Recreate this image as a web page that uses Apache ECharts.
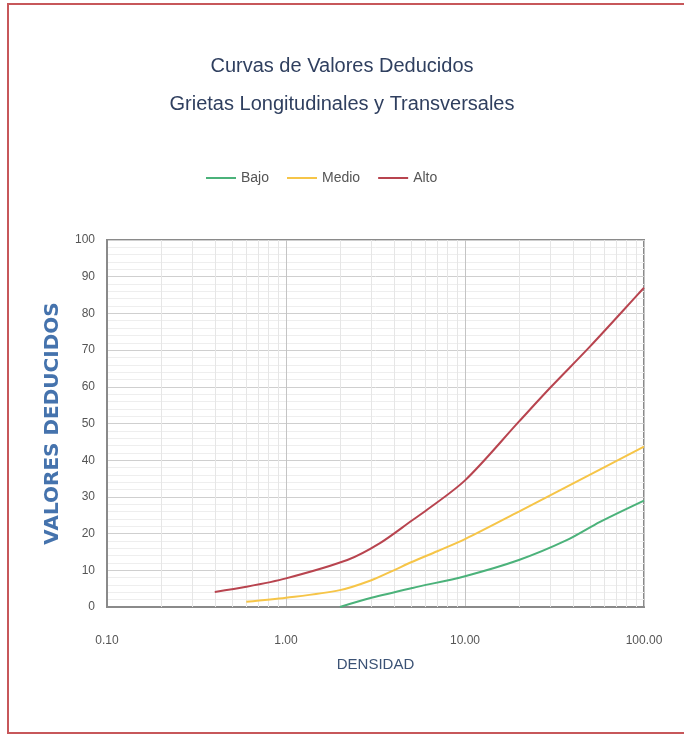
<!DOCTYPE html>
<html>
<head>
<meta charset="utf-8">
<script src="https://cdn.jsdelivr.net/npm/echarts@6/dist/echarts.min.js"></script>
<style>html,body{margin:0;padding:0;background:#fff;}#c{width:684px;height:737px;}</style>
</head>
<body>
<div id="c"></div>
<script>
const seriesNames = ['Bajo', 'Medio', 'Alto'];
const bajoX = [2.0, 3.0, 5.1, 10, 20, 37, 56.8, 100];
const bajoY = [0, 2.5, 5.2, 8.4, 12.8, 18.2, 23.2, 29];
const medioX = [0.6, 1.0, 2.0, 3.0, 4.0, 5.0, 7.0, 10, 20, 40, 100];
const medioY = [1.4, 2.5, 4.6, 7.3, 10, 12.2, 15.2, 18.5, 26, 33.6, 43.7];
const altoX = [0.4, 0.6, 1.0, 2.2, 3.35, 5.1, 5.8, 10, 20, 30, 50, 100];
const altoY = [4.1, 5.5, 7.8, 12.8, 17.4, 23.7, 25.6, 34.5, 50.5, 59.8, 71, 87];
const minorXTicks = [0.2,0.3,0.4,0.5,0.6,0.7,0.8,0.9,2,3,4,5,6,7,8,9,20,30,40,50,60,70,80,90];
const colors = ['#4bb27a', '#f6c548', '#b8444f'];

const zip = (xs, ys) => xs.map((x, i) => [x, ys[i]]);
const font = "'Liberation Sans Narrow', 'Liberation Sans', sans-serif";

const chart = echarts.init(document.getElementById('c'), null, {renderer: 'canvas'});
chart.setOption({
  animation: false,
  backgroundColor: '#ffffff',
  graphic: [{
    type: 'rect', shape: {x: 8, y: 4, width: 690, height: 729},
    style: {fill: 'none', stroke: '#c7575a', lineWidth: 2}, z: -1
  }],
  title: {
    text: 'Curvas de Valores Deducidos\nGrietas Longitudinales y Transversales',
    left: 'center', top: 42,
    textStyle: {fontFamily: font, fontSize: 20, fontWeight: 'normal', color: '#2f3f5f', lineHeight: 38}
  },
  legend: {
    data: seriesNames, top: 166, left: 201,
    icon: 'rect', itemWidth: 30, itemHeight: 2, itemGap: 18,
    textStyle: {fontFamily: font, fontSize: 14, color: '#555'}
  },
  grid: {left: 107, right: 40, top: 240, bottom: 130, show: true, borderColor: '#8a8a8a', borderWidth: 2, backgroundColor: 'transparent'},
  xAxis: {
    type: 'log', logBase: 10, min: 0.1, max: 100,
    name: 'DENSIDAD', nameLocation: 'middle', nameGap: 50,
    nameTextStyle: {fontFamily: font, fontSize: 15, color: '#3b5275'},
    axisLine: {show: true, lineStyle: {color: '#8a8a8a', width: 2}},
    axisTick: {show: false},
    axisLabel: {margin: 28, fontFamily: font, fontSize: 12, color: '#555',
      formatter: v => Number(v).toFixed(2)},
    splitLine: {show: true, lineStyle: {color: '#c4c4c4', width: 1}}
  },
  yAxis: {
    type: 'value', min: 0, max: 100, interval: 10,
    name: 'VALORES DEDUCIDOS', nameLocation: 'middle', nameGap: 44,
    nameTextStyle: {fontFamily: "'DejaVu Sans', sans-serif", fontSize: 20, fontWeight: 'bold', color: '#4573ad'},
    axisLine: {show: true, lineStyle: {color: '#8a8a8a', width: 2}},
    axisTick: {show: false},
    axisLabel: {margin: 12, fontFamily: font, fontSize: 12, color: '#555'},
    splitLine: {show: true, lineStyle: {color: '#cfcfcf', width: 1}},
    minorTick: {show: false, splitNumber: 5},
    minorSplitLine: {show: true, lineStyle: {color: '#eeeeee', width: 1}}
  },
  series: [
    {name: 'minorX', type: 'line', data: [], silent: true, z: 1,
      markLine: {silent: true, symbol: 'none', label: {show: false},
        lineStyle: {color: '#e6e6e6', width: 1, type: 'solid'},
        data: minorXTicks.map(v => ({xAxis: v}))}},
    {name: 'Bajo', type: 'line', data: zip(bajoX, bajoY), smooth: 0.3, showSymbol: false, symbol: 'none',
      lineStyle: {color: colors[0], width: 2}, itemStyle: {color: colors[0]}, z: 5},
    {name: 'Medio', type: 'line', data: zip(medioX, medioY), smooth: 0.3, showSymbol: false, symbol: 'none',
      lineStyle: {color: colors[1], width: 2}, itemStyle: {color: colors[1]}, z: 5},
    {name: 'Alto', type: 'line', data: zip(altoX, altoY), smooth: 0.3, showSymbol: false, symbol: 'none',
      lineStyle: {color: colors[2], width: 2}, itemStyle: {color: colors[2]}, z: 5}
  ]
});
</script>
</body>
</html>
